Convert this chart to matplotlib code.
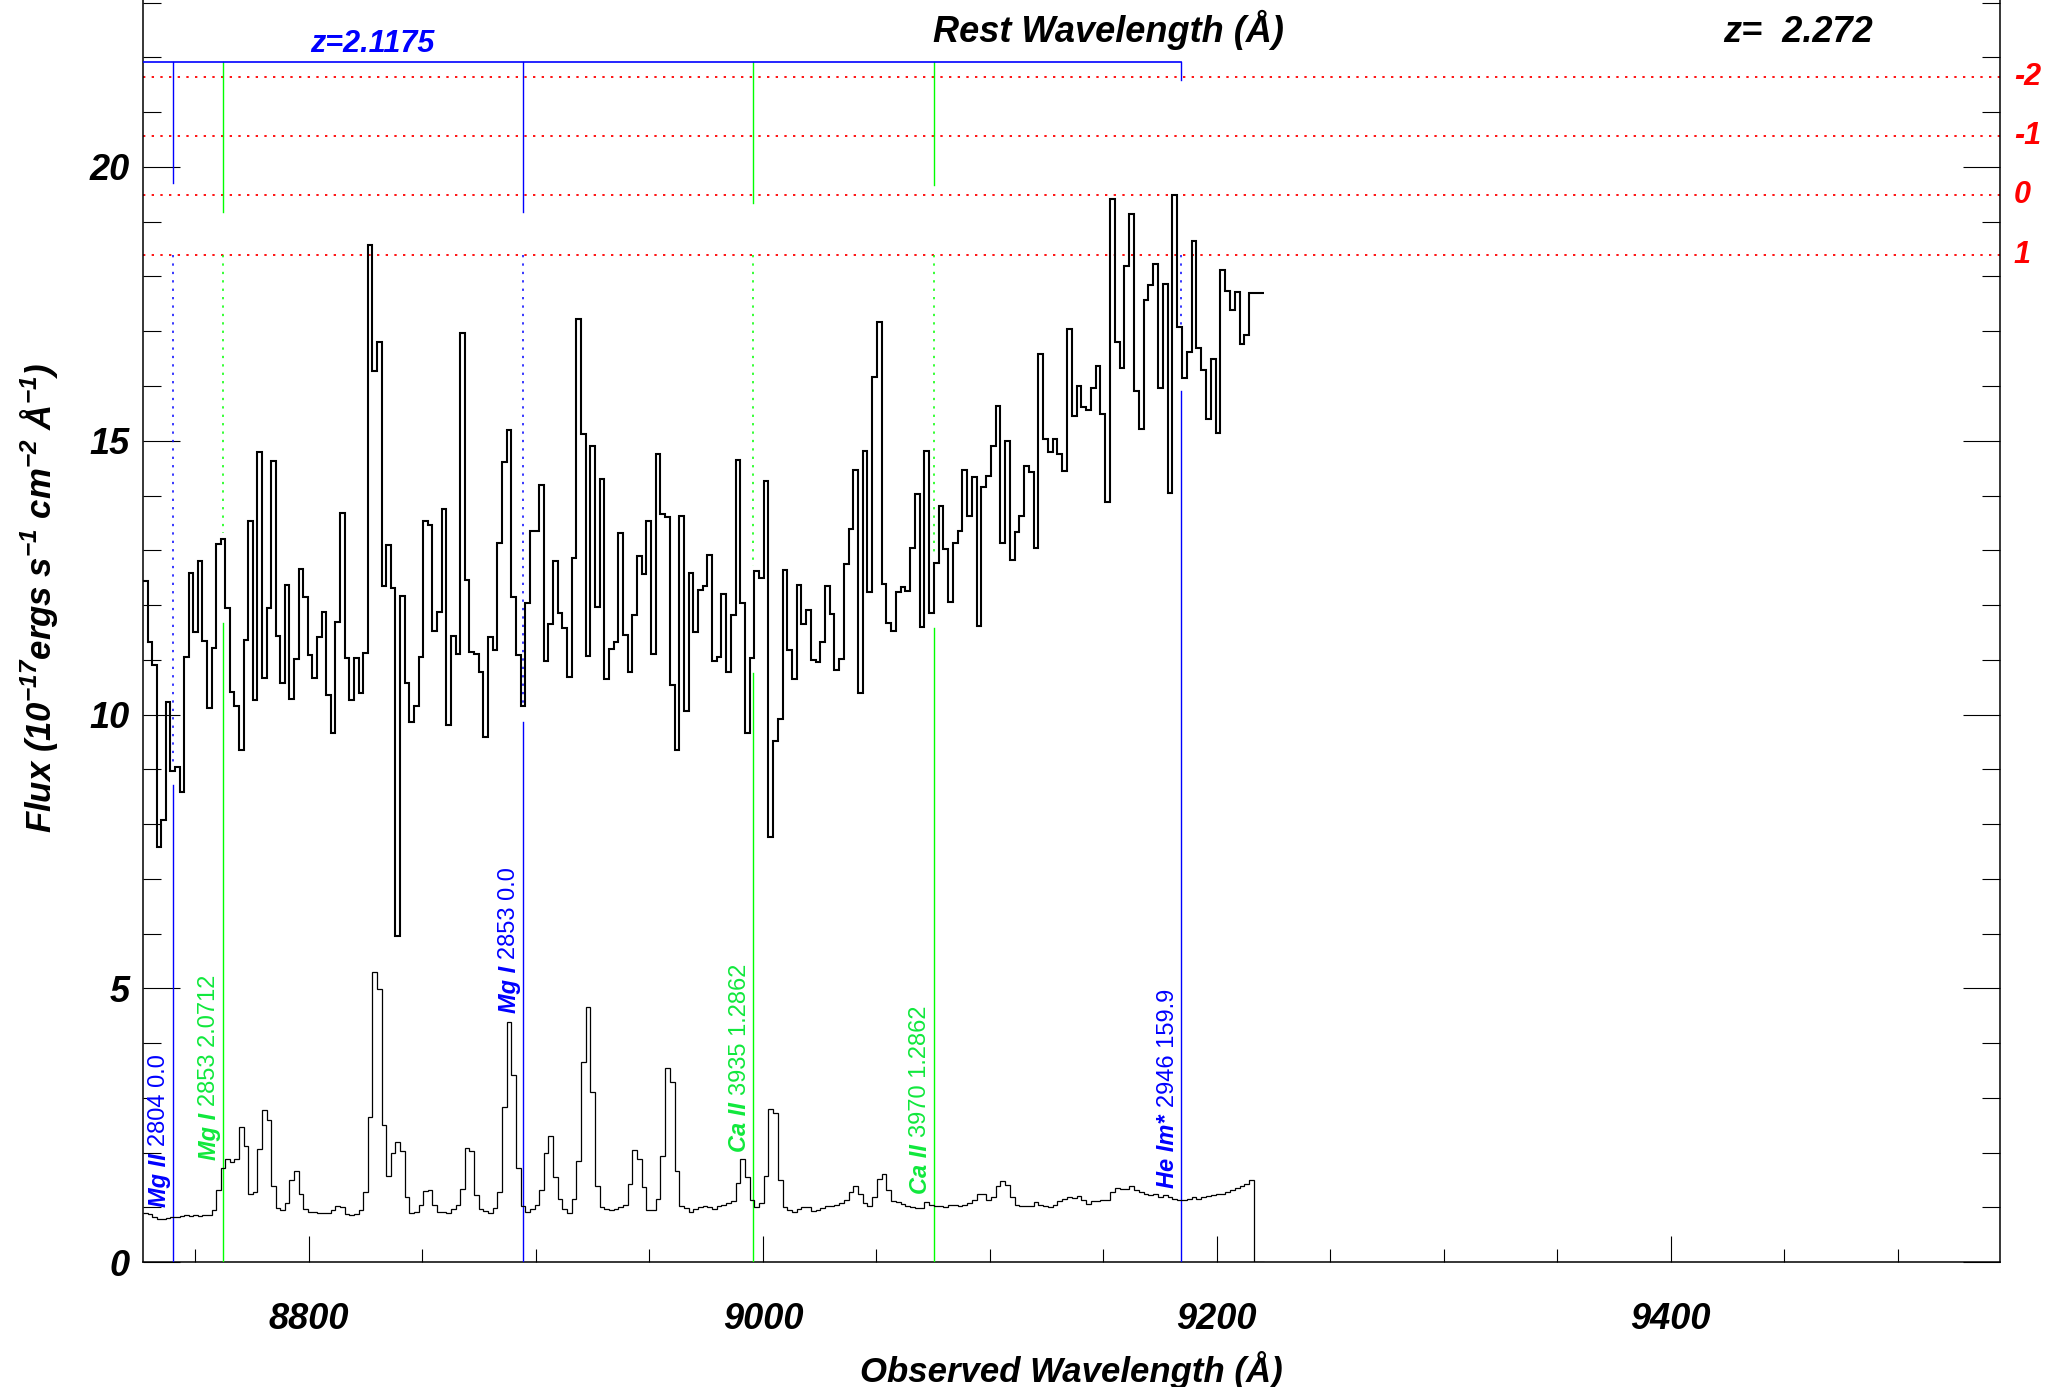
import numpy as np
import matplotlib
matplotlib.use("Agg")
import matplotlib.pyplot as plt
import matplotlib.transforms as mtransforms
from matplotlib.ticker import MultipleLocator

# ========= DATA =========
LAMBDA_START = 8726.9   # first pixel edge (Angstrom)
LOG_STEP = 1e-4         # pixel size in log10(lambda)

FLUX = [
    12.44, 11.33, 10.90, 7.58, 8.07, 10.23, 8.97, 9.05, 8.59, 11.05,
    12.59, 11.51, 12.81, 11.34, 10.12, 11.21, 13.12, 13.21, 11.94, 10.41,
    10.16, 9.36, 11.36, 13.54, 10.27, 14.80, 10.66, 11.95, 14.63, 11.43,
    10.58, 12.37, 10.28, 11.01, 12.66, 12.15, 11.08, 10.67, 11.41, 11.88,
    10.36, 9.66, 11.69, 13.68, 11.04, 10.27, 11.04, 10.40, 11.13, 18.57,
    16.28, 16.81, 12.35, 13.10, 12.31, 5.95, 12.16, 10.58, 9.87, 10.16,
    11.05, 13.54, 13.47, 11.53, 11.88, 13.76, 9.80, 11.44, 11.10, 16.97,
    12.46, 11.15, 11.10, 10.78, 9.59, 11.41, 11.17, 13.13, 14.62, 15.19,
    12.15, 11.08, 10.15, 12.03, 13.36, 13.36, 14.20, 10.98, 11.65, 12.81,
    11.85, 11.58, 10.69, 12.85, 17.22, 15.13, 11.07, 14.90, 11.97, 14.31,
    10.64, 11.20, 11.33, 13.32, 11.45, 10.78, 11.81, 12.90, 12.56, 13.54,
    11.11, 14.76, 13.67, 13.60, 10.53, 9.36, 13.63, 10.06, 12.58, 11.50,
    12.28, 12.34, 12.92, 10.97, 11.05, 12.21, 10.77, 11.81, 14.64, 12.04,
    9.66, 11.03, 12.62, 12.50, 14.26, 7.77, 9.51, 9.91, 12.64, 11.17,
    10.65, 12.36, 11.65, 11.90, 11.00, 10.96, 11.33, 12.35, 11.84, 10.82,
    11.02, 12.75, 13.38, 14.46, 10.39, 14.81, 12.24, 16.17, 17.16, 12.38,
    11.67, 11.53, 12.23, 12.32, 12.26, 13.05, 14.03, 11.59, 14.81, 11.85,
    12.77, 13.80, 13.03, 12.05, 13.14, 13.35, 14.47, 13.62, 14.33, 11.62,
    14.15, 14.36, 14.90, 15.63, 13.14, 15.00, 12.82, 13.33, 13.62, 14.54,
    14.43, 13.04, 16.58, 15.03, 14.79, 15.04, 14.76, 14.44, 17.04, 15.46,
    16.00, 15.61, 15.57, 15.97, 16.37, 15.48, 13.89, 19.41, 16.81, 16.32,
    18.19, 19.15, 15.90, 15.21, 17.57, 17.85, 18.22, 15.96, 17.87, 14.05,
    19.48, 17.07, 16.15, 16.62, 18.65, 16.70, 16.30, 15.39, 16.50, 15.14,
    18.12, 17.74, 17.38, 17.72, 16.76, 16.93, 17.70, 17.70, 17.70,
]

ERROR = [
    0.89, 0.88, 0.83, 0.79, 0.79, 0.81, 0.82, 0.83, 0.84, 0.85,
    0.84, 0.85, 0.84, 0.85, 0.86, 0.95, 1.32, 1.72, 1.89, 1.83,
    1.88, 2.46, 2.12, 1.25, 1.27, 2.06, 2.77, 2.59, 1.38, 0.99,
    0.95, 1.07, 1.50, 1.66, 1.24, 0.96, 0.92, 0.91, 0.90, 0.90,
    0.89, 0.95, 1.02, 1.01, 0.88, 0.85, 0.87, 0.95, 1.28, 2.64,
    5.30, 4.99, 2.50, 1.57, 1.99, 2.20, 2.02, 1.18, 0.89, 0.91,
    1.04, 1.30, 1.32, 1.04, 0.92, 0.92, 0.89, 0.96, 1.04, 1.34,
    2.08, 2.03, 1.22, 0.97, 0.94, 0.89, 0.98, 1.28, 2.84, 4.39,
    3.42, 1.72, 1.03, 0.92, 0.96, 1.04, 1.32, 2.00, 2.30, 1.56,
    1.16, 0.96, 0.89, 1.16, 1.85, 3.66, 4.65, 3.11, 1.39, 1.00,
    0.96, 0.95, 0.96, 1.00, 1.04, 1.42, 2.05, 1.88, 1.37, 0.95,
    0.95, 1.15, 1.94, 3.55, 3.28, 1.67, 1.02, 0.98, 0.92, 0.96,
    1.01, 1.02, 1.00, 0.97, 1.02, 1.05, 1.08, 1.12, 1.45, 1.88,
    1.55, 1.14, 1.01, 1.08, 1.57, 2.79, 2.72, 1.49, 1.01, 0.95,
    0.92, 0.97, 1.01, 1.01, 0.94, 0.95, 0.99, 1.02, 1.03, 1.04,
    1.08, 1.14, 1.28, 1.39, 1.25, 1.07, 1.02, 1.18, 1.51, 1.61,
    1.32, 1.12, 1.09, 1.06, 1.03, 1.01, 0.99, 0.99, 1.09, 1.05,
    1.03, 1.03, 1.01, 1.04, 1.04, 1.02, 1.05, 1.08, 1.14, 1.25,
    1.25, 1.14, 1.19, 1.39, 1.48, 1.40, 1.19, 1.04, 1.03, 1.03,
    1.02, 1.10, 1.04, 1.02, 1.01, 1.05, 1.12, 1.16, 1.19, 1.17,
    1.21, 1.13, 1.06, 1.12, 1.12, 1.13, 1.14, 1.27, 1.35, 1.34,
    1.34, 1.38, 1.32, 1.28, 1.24, 1.23, 1.25, 1.19, 1.22, 1.18,
    1.16, 1.14, 1.13, 1.16, 1.19, 1.16, 1.18, 1.20, 1.22, 1.24,
    1.25, 1.28, 1.32, 1.36, 1.39, 1.43, 1.49, 0.00, 0.00,
]

# line identifications
LINE_SPECIES = ["Mg II", "Mg I", "Mg I", "Ca II", "Ca II", "He Im*"]
LINE_INFO = ["2804 0.0", "2853 2.0712", "2853 0.0", "3935 1.2862", "3970 1.2862", "2946 159.9"]
LINE_REST = [2803.53, 2852.96, 2852.96, 3934.78, 3969.59, 2946.0]
LINE_Z = [2.1175, 2.0712, 2.1175, 1.2862, 1.2862, 2.1175]
LINE_TOP_END = [19.71, 19.18, 19.18, 19.34, 19.67, 21.59]
LINE_DOT_END = [9.04, 13.31, 10.17, 12.72, 12.95, 17.12]
LINE_LOW_START = [8.72, 11.67, 9.87, 10.76, 11.58, 15.90]
LINE_LABEL_Y = [1.01, 1.86, 4.54, 2.01, 1.25, 1.36]

SYSTEM_Z = 2.1175
SYSTEM_LABEL_X = 8828
SYSTEM_LABEL_Y = 22.10
BRACKET_Y = 21.92

SIGMA_LEVELS = [21.64, 20.56, 19.48, 18.39]
SIGMA_LABELS = ["-2", "-1", "0", "1"]
QSO_Z = 2.272

XLIM = (8727.1, 9544.9)
YLIM = (0, 23.05)

BLUE = "#0000ff"
GREEN = "#00ff00"
GREEN_TXT = "#10e83c"
RED = "#ff0000"

# ==================================

plt.rcParams["font.family"] = ["Liberation Sans", "DejaVu Sans"]
plt.rcParams["font.weight"] = "bold"
plt.rcParams["font.style"] = "italic"
plt.rcParams["mathtext.fontset"] = "custom"
plt.rcParams["mathtext.rm"] = "Liberation Sans:bold:italic"
plt.rcParams["mathtext.it"] = "Liberation Sans:bold:italic"
plt.rcParams["mathtext.bf"] = "Liberation Sans:bold:italic"

fig = plt.figure(figsize=(20.49, 13.87), dpi=100)
ax = fig.add_axes([0.0700, 0.0901, 0.9060, 0.9099])

# spectrum and error, on the log-lambda pixel grid
edges = LAMBDA_START * 10 ** (LOG_STEP * np.arange(len(FLUX) + 1))
ax.stairs(FLUX, edges, baseline=None, color="black", lw=1.5, zorder=4)
ax.stairs(ERROR, edges, baseline=None, color="black", lw=0.9, zorder=4)

# sigma levels
for lev in SIGMA_LEVELS:
    ax.axhline(lev, color=RED, lw=1.3, ls=(0, (1.3, 3.5)), zorder=2)
blend = mtransforms.blended_transform_factory(ax.transAxes, ax.transData)
for lev, lab in zip(SIGMA_LEVELS, SIGMA_LABELS):
    ax.text(1.0075, lev, lab, transform=blend, color=RED, fontsize=22,
            ha="left", va="center", clip_on=False)

# line ids
obs = [r * (1 + z) for r, z in zip(LINE_REST, LINE_Z)]
for i, x in enumerate(obs):
    is_sys = LINE_Z[i] == SYSTEM_Z
    c = BLUE if is_sys else GREEN
    tc = BLUE if is_sys else GREEN_TXT
    ax.plot([x, x], [BRACKET_Y, LINE_TOP_END[i]], color=c, lw=1.0, zorder=3)
    ax.plot([x, x], [SIGMA_LEVELS[-1], LINE_DOT_END[i]], color=c, lw=1.1,
            ls=(0, (1.5, 4)), zorder=3)
    ax.plot([x, x], [LINE_LOW_START[i], 0], color=c, lw=1.0, zorder=3)
    t1 = ax.text(x - 0.8, LINE_LABEL_Y[i], LINE_SPECIES[i], rotation=90,
                 ha="right", va="bottom", color=tc, fontsize=17)
    ax.annotate(LINE_INFO[i], xy=(0.5, 1.0), xycoords=t1, xytext=(0, 5),
                textcoords="offset points", rotation=90, ha="center", va="bottom",
                color=tc, fontsize=17, fontweight="normal", fontstyle="normal")

# system bracket
sys_x = [x for x, z in zip(obs, LINE_Z) if z == SYSTEM_Z]
ax.plot([XLIM[0], max(sys_x)], [BRACKET_Y, BRACKET_Y], color=BLUE, lw=1.2, zorder=3)
ax.text(SYSTEM_LABEL_X, SYSTEM_LABEL_Y, f"z={SYSTEM_Z}", color=BLUE, fontsize=22,
        ha="center", va="baseline")

# axes
ax.set_xlim(*XLIM)
ax.set_ylim(*YLIM)
ax.xaxis.set_major_locator(MultipleLocator(200))
ax.xaxis.set_minor_locator(MultipleLocator(50))
ax.yaxis.set_major_locator(MultipleLocator(5))
ax.yaxis.set_minor_locator(MultipleLocator(1))
ax.tick_params(axis="x", which="major", direction="in", length=18.7, width=0.8,
               pad=28.5, labelsize=26, top=False)
ax.tick_params(axis="x", which="minor", direction="in", length=9.6, width=0.8, top=False)
ax.tick_params(axis="y", which="major", direction="in", length=26.3, width=0.8,
               pad=10, labelsize=26, right=True)
ax.tick_params(axis="y", which="minor", direction="in", length=13.2, width=0.8, right=True)
ax.spines["top"].set_visible(False)
for s in ["left", "right", "bottom"]:
    ax.spines[s].set_linewidth(1.1)

fig.text(1071.7 / 2049, 0.0036, "Observed Wavelength (Å)", ha="center", va="baseline",
         fontsize=25)
fig.text(39 / 2049, 1 - 598 / 1387,
         r"Flux (10$^{-17}$ergs s$^{-1}$ cm$^{-2}$ Å$^{-1}$)",
         rotation=90, ha="center", va="center", fontsize=25)
fig.text(1108.5 / 2049, 1 - 42 / 1387, "Rest Wavelength (Å)", ha="center",
         va="baseline", fontsize=26)
fig.text(1798 / 2049, 1 - 42 / 1387, f"z=  {QSO_Z}", ha="center", va="baseline",
         fontsize=26)

fig.savefig("out.png", dpi=100)
